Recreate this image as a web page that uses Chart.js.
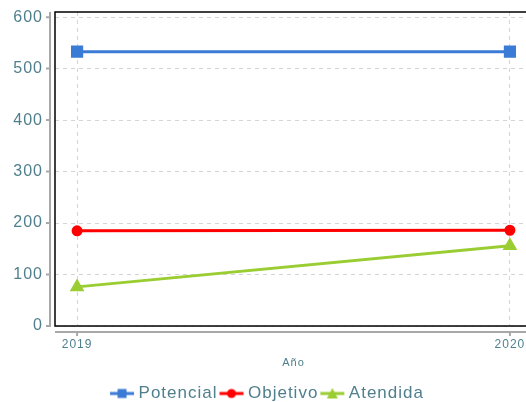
<!DOCTYPE html>
<html>
<head>
<meta charset="utf-8">
<script src="https://cdn.jsdelivr.net/npm/chart.js@4"></script>
<style>
  html, body { margin: 0; padding: 0; overflow: hidden; background: #fff; }
  #wrap { width: 545px; height: 402px; }
</style>
</head>
<body>
<div id="wrap"><canvas id="chart"></canvas></div>
<script>
const years = [2019, 2020];
const potencial = [533, 533];
const objetivo = [185, 186];
const atendida = [76, 156];
const yTicks = [0, 100, 200, 300, 400, 500, 600];

const textColor = "#4f7f8c";
const fontFam = "Arial, 'Liberation Sans', sans-serif";

function pts(vals) {
  return years.map((y, i) => ({ x: y, y: vals[i] }));
}

// line+marker swatch for the legend, wider than the box so it sits close to the text
function swatch(color, style) {
  const c = document.createElement("canvas");
  c.width = 32; c.height = 12;
  const g = c.getContext("2d");
  g.strokeStyle = color; g.fillStyle = color; g.lineWidth = 3;
  g.beginPath(); g.moveTo(7, 6); g.lineTo(31, 6); g.stroke();
  g.beginPath();
  if (style === "rect") g.rect(14.5, 1.5, 9, 9);
  else if (style === "circle") g.arc(19, 6, 4.5, 0, Math.PI * 2);
  else { g.moveTo(19, 0.5); g.lineTo(24.5, 11); g.lineTo(13.5, 11); g.closePath(); }
  g.fill();
  return c;
}

const spacingPlugin = {
  id: "spacing",
  beforeUpdate(chart) { chart.ctx.letterSpacing = "1px"; },
  beforeLayout(chart) { chart.ctx.letterSpacing = "1px"; },
  beforeDraw(chart) { chart.ctx.letterSpacing = "1px"; },
};

const axisPlugin = {
  id: "axisPlugin",
  beforeDatasetsDraw(chart) {
    const { ctx, chartArea: a, scales } = chart;
    ctx.save();
    ctx.strokeStyle = "#000";
    ctx.lineWidth = 1.5;
    ctx.strokeRect(a.left, a.top, a.right - a.left, a.bottom - a.top);
    ctx.strokeStyle = "#a8a8a8";
    ctx.lineWidth = 2;
    ctx.beginPath();
    ctx.moveTo(a.left - 5, a.top);
    ctx.lineTo(a.left - 5, a.bottom + 1);
    ctx.moveTo(a.left, a.bottom + 6);
    ctx.lineTo(chart.width, a.bottom + 6);
    yTicks.forEach(v => {
      const y = scales.y.getPixelForValue(v);
      ctx.moveTo(a.left - 9, y); ctx.lineTo(a.left - 5, y);
    });
    years.forEach(v => {
      const x = scales.x.getPixelForValue(v);
      ctx.moveTo(x, a.bottom + 6); ctx.lineTo(x, a.bottom + 10);
    });
    ctx.stroke();
    ctx.restore();
  }
};

const ctx = document.getElementById("chart").getContext("2d");
new Chart(ctx, {
  type: "line",
  data: {
    datasets: [
      {
        label: "Potencial",
        data: pts(potencial),
        borderColor: "#3a7bd5",
        backgroundColor: "#3a7bd5",
        pointStyle: "rect",
        pointRadius: 6.5,
        borderWidth: 3,
        swatch: swatch("#3a7bd5", "rect"),
      },
      {
        label: "Objetivo",
        data: pts(objetivo),
        borderColor: "#ff0000",
        backgroundColor: "#ff0000",
        pointStyle: "circle",
        pointRadius: 4,
        borderWidth: 3,
        swatch: swatch("#ff0000", "circle"),
      },
      {
        label: "Atendida",
        data: pts(atendida),
        borderColor: "#9acd32",
        backgroundColor: "#9acd32",
        pointStyle: "triangle",
        pointRadius: 5.5,
        borderWidth: 3,
        swatch: swatch("#9acd32", "triangle"),
      },
    ],
  },
  options: {
    responsive: true,
    maintainAspectRatio: false,
    animation: false,
    layout: { padding: { top: 12, left: 0, right: 13, bottom: -10 } },
    plugins: {
      tooltip: { enabled: false },
      legend: {
        position: "bottom",
        labels: {
          usePointStyle: true,
          pointStyleWidth: 22,
          padding: 0,
          color: textColor,
          font: { family: fontFam, size: 17 },
          generateLabels(chart) {
            return chart.data.datasets.map((ds, i) => ({
              text: ds.label,
              pointStyle: ds.swatch,
              fontColor: textColor,
              datasetIndex: i,
              lineWidth: 0,
            }));
          },
        },
      },
    },
    scales: {
      x: {
        type: "linear",
        min: 2018.949,
        max: 2020.051,
        afterBuildTicks(s) { s.ticks = years.map(v => ({ value: v })); },
        afterFit(s) { s.height = 59; },
        ticks: {
          color: textColor,
          font: { family: fontFam, size: 12 },
          padding: 11,
          maxRotation: 0,
          callback: v => String(v),
        },
        grid: { color: "#d4d4d4", drawTicks: false },
        border: { display: false, dash: [4, 4] },
        title: {
          display: true,
          text: "Año",
          color: textColor,
          font: { family: fontFam, size: 11 },
          padding: { top: 4, bottom: 15 },
        },
      },
      y: {
        min: 0,
        max: 610,
        afterBuildTicks(s) { s.ticks = yTicks.map(v => ({ value: v })); },
        afterFit(s) { s.width = 55; s.paddingTop = 0; s.paddingBottom = 0; },
        ticks: {
          color: textColor,
          font: { family: fontFam, size: 16 },
          padding: 12,
        },
        grid: { color: "#d4d4d4", drawTicks: false },
        border: { display: false, dash: [4, 4] },
      },
    },
  },
  plugins: [spacingPlugin, axisPlugin],
});
</script>
</body>
</html>
